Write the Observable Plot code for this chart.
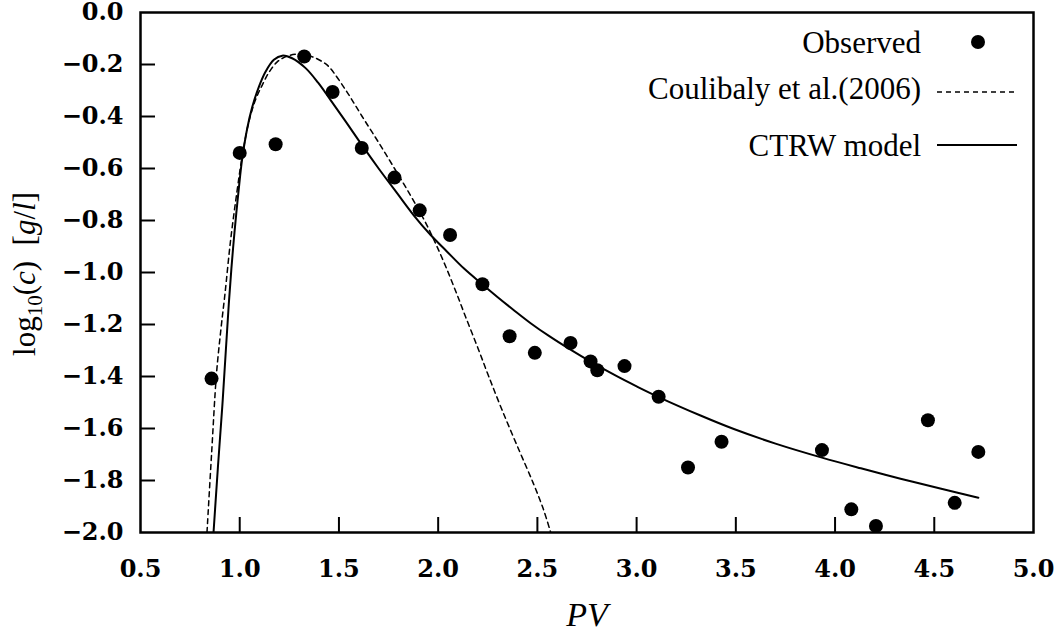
<!DOCTYPE html>
<html><head><meta charset="utf-8">
<script src="https://cdn.jsdelivr.net/npm/d3@7"></script>
<script src="https://cdn.jsdelivr.net/npm/@observablehq/plot@0.6"></script>
<style>
body{margin:0;background:#fff}
</style>
</head><body><div id="chart"></div>
<script>
// Observed data
const obsPV   = [0.858, 1.000, 1.181, 1.325, 1.468, 1.615, 1.780, 1.907, 2.060, 2.223, 2.360, 2.487, 2.667, 2.768, 2.802, 2.939, 3.111, 3.259, 3.428, 3.934, 4.082, 4.206, 4.468, 4.603, 4.722];
const obsLogC = [-1.408, -0.540, -0.507, -0.169, -0.306, -0.521, -0.635, -0.761, -0.856, -1.045, -1.245, -1.309, -1.271, -1.342, -1.376, -1.360, -1.478, -1.750, -1.651, -1.683, -1.911, -1.975, -1.568, -1.886, -1.690];

// CTRW model (solid)
const ctrwPV   = [0.868, 0.890, 0.912, 0.930, 0.945, 0.958, 0.970, 0.983, 0.995, 1.012, 1.038, 1.063, 1.096, 1.130, 1.172, 1.214, 1.264, 1.332, 1.395, 1.458, 1.530, 1.625, 1.700, 1.793, 1.880, 1.961, 2.045, 2.129, 2.222, 2.297, 2.380, 2.466, 2.560, 2.667, 2.768, 2.900, 3.000, 3.111, 3.322, 3.490, 3.700, 3.934, 4.130, 4.330, 4.530, 4.722];
const ctrwLogC = [-2.000, -1.750, -1.517, -1.300, -1.120, -0.985, -0.876, -0.770, -0.680, -0.565, -0.445, -0.364, -0.287, -0.228, -0.182, -0.166, -0.176, -0.214, -0.270, -0.337, -0.415, -0.520, -0.600, -0.695, -0.783, -0.855, -0.920, -0.984, -1.045, -1.093, -1.144, -1.195, -1.245, -1.297, -1.343, -1.399, -1.438, -1.479, -1.550, -1.602, -1.658, -1.712, -1.753, -1.793, -1.831, -1.866];

// Coulibaly et al. (2006) (dashed)
const coulPV   = [0.835, 0.858, 0.883, 0.905, 0.926, 0.954, 0.987, 1.012, 1.046, 1.080, 1.113, 1.146, 1.189, 1.239, 1.298, 1.365, 1.432, 1.458, 1.540, 1.617, 1.700, 1.780, 1.860, 1.931, 1.985, 2.037, 2.090, 2.138, 2.200, 2.255, 2.320, 2.400, 2.479, 2.530, 2.567];
const coulLogC = [-2.000, -1.700, -1.389, -1.220, -1.080, -0.876, -0.684, -0.555, -0.420, -0.335, -0.280, -0.232, -0.190, -0.168, -0.160, -0.170, -0.197, -0.216, -0.305, -0.400, -0.500, -0.600, -0.703, -0.800, -0.885, -0.975, -1.075, -1.170, -1.290, -1.400, -1.525, -1.670, -1.810, -1.910, -2.000];

const xTicks = [0.5, 1.0, 1.5, 2.0, 2.5, 3.0, 3.5, 4.0, 4.5, 5.0];
const yTicks = [0.0, -0.2, -0.4, -0.6, -0.8, -1.0, -1.2, -1.4, -1.6, -1.8, -2.0];

const legendLabels = ["Observed", "Coulibaly et al.(2006)", "CTRW model"];

const obs  = obsPV.map((x, i) => ({x, y: obsLogC[i]}));
const ctrw = ctrwPV.map((x, i) => ({x, y: ctrwLogC[i]}));
const coul = coulPV.map((x, i) => ({x, y: coulLogC[i]}));

const W = 1057, H = 634, mL = 140, mR = 24, mT = 12, mB = 102;
const tickLen = 15;
const fmt = d3.format(".1f");
const TEXT_FONT = "Liberation Serif";
const TICK_FONT = "DejaVu Serif";

const plot = Plot.plot({
  width: W, height: H,
  marginLeft: mL, marginRight: mR, marginTop: mT, marginBottom: mB,
  style: "font-size:24px;color:#000;background:#fff;overflow:visible;font-family:'Liberation Serif',serif",
  x: {domain: [0.5, 5.0]},
  y: {domain: [-2.0, 0.0]},
  marks: [
    Plot.axisX({ticks: xTicks, tickSize: 0, tickPadding: 27, tickFormat: fmt, fontWeight: "bold", fontFamily: TICK_FONT, fontSize: 24, label: null}),
    Plot.axisY({ticks: yTicks, tickSize: 0, tickPadding: 17, tickFormat: fmt, fontWeight: "bold", fontFamily: TICK_FONT, fontSize: 24, label: null}),
    Plot.ruleX(xTicks.slice(1, -1), {x: d => d, insetTop: (H - mT - mB) - tickLen, strokeWidth: 2, stroke: "#000"}),
    Plot.ruleY(yTicks.slice(1, -1), {y: d => d, insetRight: (W - mL - mR) - tickLen, strokeWidth: 2, stroke: "#000"}),
    Plot.line(coul, {x: "x", y: "y", stroke: "#000", strokeWidth: 1.5, strokeDasharray: "5,4", curve: "catmull-rom", clip: true}),
    Plot.line(ctrw, {x: "x", y: "y", stroke: "#000", strokeWidth: 2, curve: "catmull-rom", clip: true}),
    Plot.dot(obs, {x: "x", y: "y", r: 7, fill: "#000", stroke: null}),
    Plot.frame({stroke: "#000", strokeWidth: 2.5}),
    Plot.text(["PV"], {frameAnchor: "bottom", dy: 83, lineAnchor: "middle", fontStyle: "italic", fontSize: 34, fontFamily: TEXT_FONT})
  ]
});

const svg = d3.select(plot);
svg.attr("font-family", TEXT_FONT);

// y-axis label with subscript and italics
const yl = svg.append("text")
  .attr("transform", `translate(35,${mT + (H - mT - mB) / 2 + 2}) rotate(-90)`)
  .attr("text-anchor", "middle")
  .attr("font-size", 31)
  .attr("font-family", TEXT_FONT);
yl.append("tspan").text("log");
yl.append("tspan").attr("dy", 7).attr("font-size", 21).text("10");
yl.append("tspan").attr("dy", -7).text("(");
yl.append("tspan").attr("font-style", "italic").text("c");
yl.append("tspan").text(")\u2002[");
yl.append("tspan").attr("font-style", "italic").text("g");
yl.append("tspan").text("/");
yl.append("tspan").attr("font-style", "italic").text("l");
yl.append("tspan").text("]");

// legend
const lg = svg.append("g").attr("font-size", 31).attr("font-family", TEXT_FONT);
const textX = 921, symX1 = 937, symX2 = 1017, dotX = 978;
const baselines = [53, 99, 156];
const symY = [42, 92, 145];
legendLabels.forEach((t, i) => {
  lg.append("text").attr("x", textX).attr("y", baselines[i]).attr("text-anchor", "end").text(t);
});
lg.append("circle").attr("cx", dotX).attr("cy", symY[0]).attr("r", 7).attr("fill", "#000");
lg.append("line").attr("x1", symX1).attr("x2", symX2).attr("y1", symY[1]).attr("y2", symY[1])
  .attr("stroke", "#000").attr("stroke-width", 1.5).attr("stroke-dasharray", "5,4");
lg.append("line").attr("x1", symX1).attr("x2", symX2).attr("y1", symY[2]).attr("y2", symY[2])
  .attr("stroke", "#000").attr("stroke-width", 2);

document.getElementById("chart").append(plot);
</script>
</body></html>
